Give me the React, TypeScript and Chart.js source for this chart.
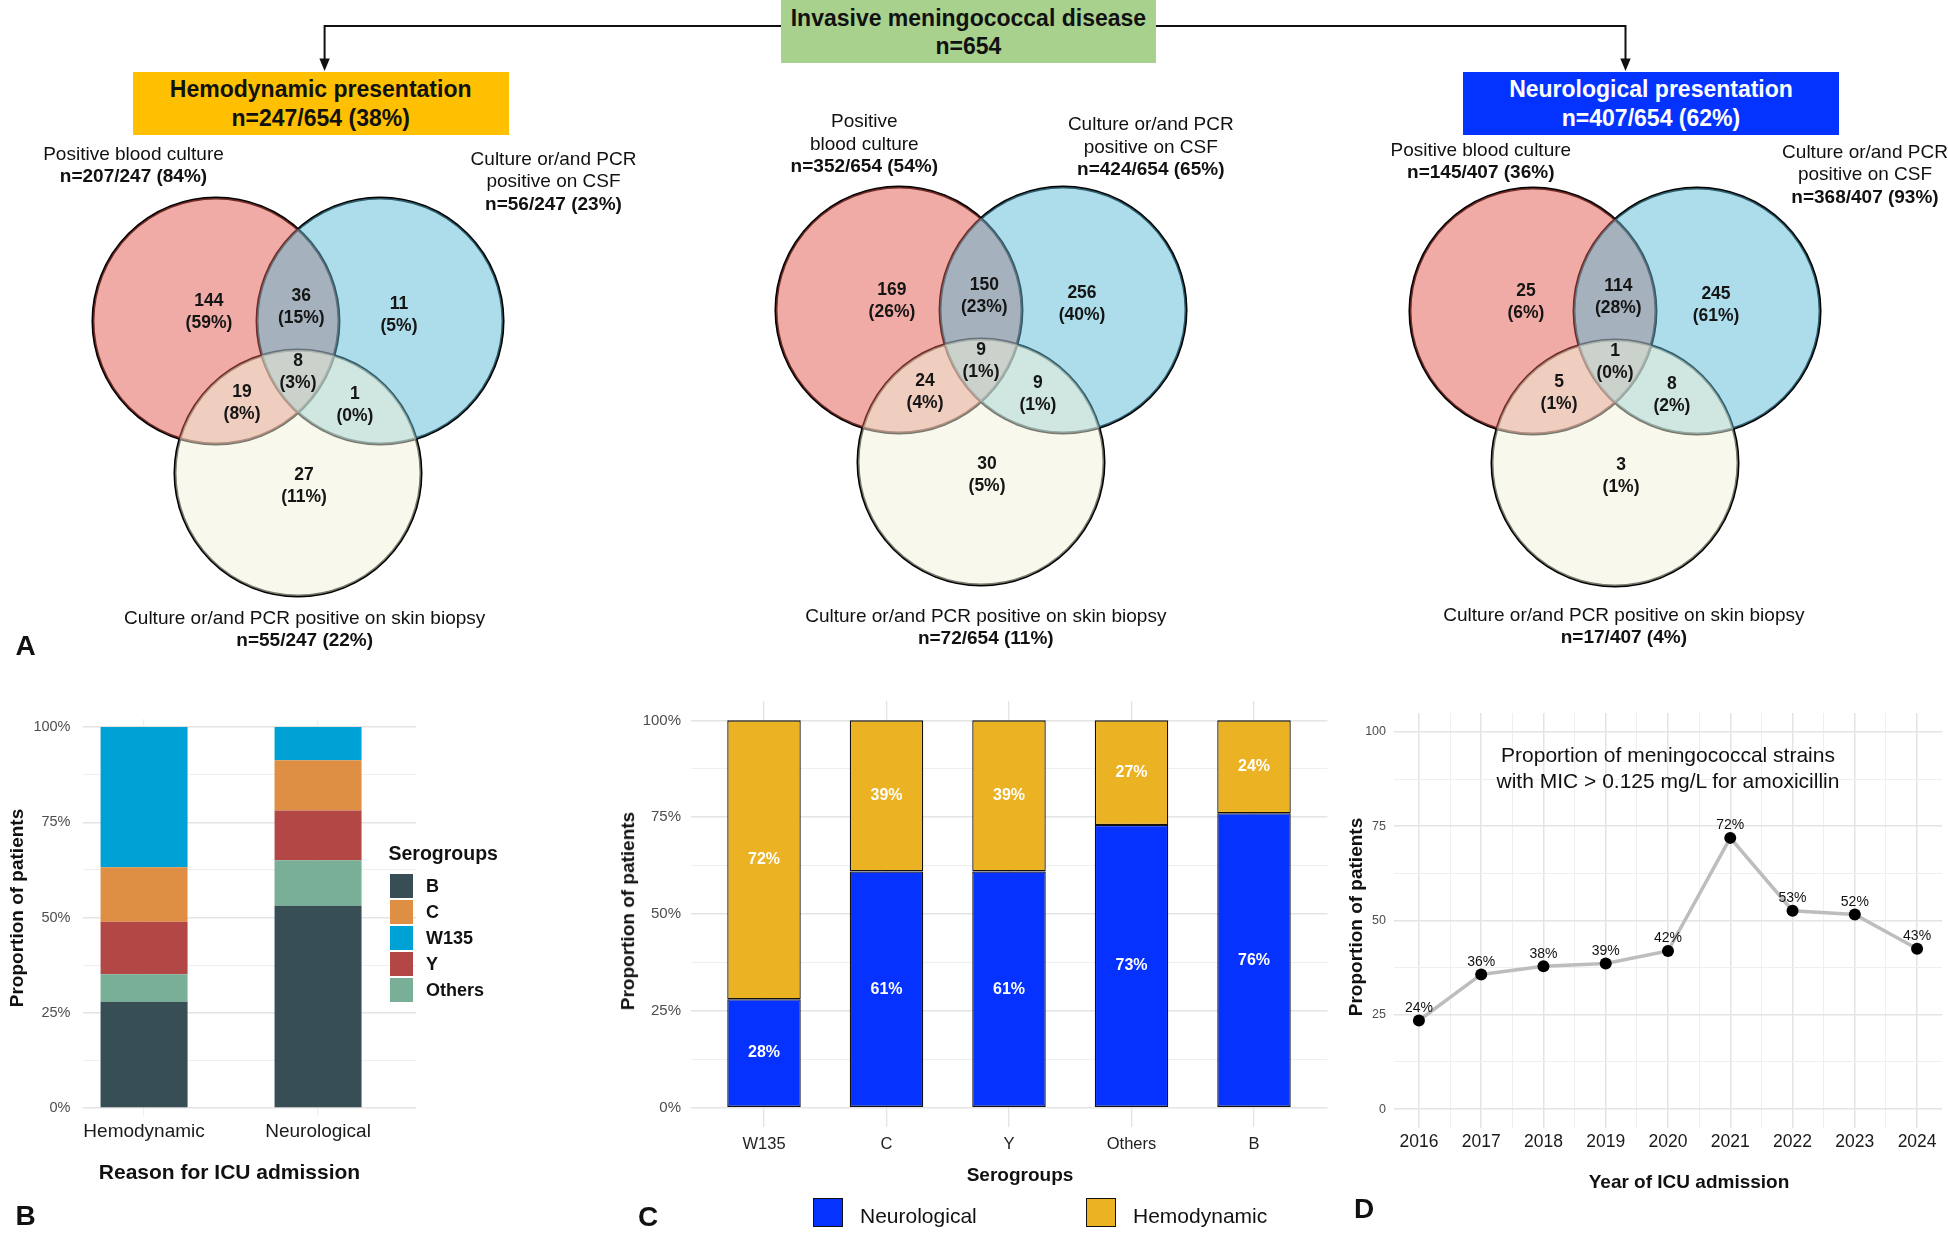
import React, { useEffect, useRef } from 'react';
import { Chart, registerables } from 'chart.js';

Chart.register(...registerables);

const FONT = '"Liberation Sans", Arial, Helvetica, sans-serif';
Chart.defaults.font.family = FONT;

// ---------------- DATA ----------------
// Venn regions (order): blood only, blood+CSF, CSF only, all three, blood+skin, CSF+skin, skin only
const hemoRegionCounts = [144, 36, 11, 8, 19, 1, 27];
const hemoRegionPcts = [59, 15, 5, 3, 8, 0, 11];
const allRegionCounts = [169, 150, 256, 9, 24, 9, 30];
const allRegionPcts = [26, 23, 40, 1, 4, 1, 5];
const neuroRegionCounts = [25, 114, 245, 1, 5, 8, 3];
const neuroRegionPcts = [6, 28, 61, 0, 1, 2, 1];

// Set totals: blood, CSF, skin
const hemoSetN = [207, 56, 55];
const hemoSetPct = [84, 23, 22];
const allSetN = [352, 424, 72];
const allSetPct = [54, 65, 11];
const neuroSetN = [145, 368, 17];
const neuroSetPct = [36, 93, 4];
const totalPatients = 654;
const hemoPatients = 247;
const neuroPatients = 407;
const hemoSharePct = 38;
const neuroSharePct = 62;

// Panel B
const icuReasons = ['Hemodynamic', 'Neurological'];
const sgB = [27.9, 53.1];
const sgOthers = [7.2, 11.9];
const sgY = [13.8, 13.1];
const sgC = [14.3, 13.2];
const sgW135 = [36.8, 8.7];

// Panel C
const serogroupsC = ['W135', 'C', 'Y', 'Others', 'B'];
const neuroPctC = [28, 61, 61, 73, 76];
const hemoPctC = [72, 39, 39, 27, 24];

// Panel D
const years = [2016, 2017, 2018, 2019, 2020, 2021, 2022, 2023, 2024];
const micPct = [23.5, 35.7, 37.9, 38.6, 41.9, 71.9, 52.6, 51.6, 42.5];

const percentTicks = [0, 12.5, 25, 37.5, 50, 62.5, 75, 87.5, 100];

// ---------------- STYLE / LAYOUT ----------------
const GRID_MAJOR = '#e4e4e4';
const GRID_MINOR = '#efefef';
const isMajor25 = (v: number) => Math.abs(v % 25) < 1e-6;

const sgColors: Record<string, string> = {
  B: '#374E55',
  C: '#DF8F44',
  W135: '#00A1D5',
  Y: '#B24745',
  Others: '#79AF97',
};
const sgStack = [
  { name: 'B', values: sgB },
  { name: 'Others', values: sgOthers },
  { name: 'Y', values: sgY },
  { name: 'C', values: sgC },
  { name: 'W135', values: sgW135 },
];
const sgLegendOrder = ['B', 'C', 'W135', 'Y', 'Others'];

const NEURO_BLUE = '#0632FF';
const HEMO_YELLOW = '#EBB223';

// Venn geometry (unit = circle radius)
const VENN_UNIT = 123;
const VENN_W = 440;
const VENN_H = 440;
const VENN_ABOVE = 140;
const circleCenters = [
  { x: -0.667, y: 0 },
  { x: 0.667, y: 0 },
  { x: 0, y: -1.236 },
];
const circleFills = ['rgba(225,87,77,0.5)', 'rgba(91,185,213,0.5)', 'rgba(241,241,217,0.5)'];
const regionAnchors: [number, number][] = [
  [-0.724, 0.073],
  [0.027, 0.114],
  [0.821, 0.049],
  [0, -0.415],
  [-0.455, -0.667],
  [0.463, -0.683],
  [0.049, -1.341],
];

type SetLabel = { x: number; y: number; lines: string[] };
const vennPanels = [
  {
    key: 'hemo', cx: 298, cy: 321, counts: hemoRegionCounts, pcts: hemoRegionPcts,
    setN: hemoSetN, setPct: hemoSetPct, denom: hemoPatients,
    labels: [
      { x: 133.5, y: 165.8, lines: ['Positive blood culture'] },
      { x: 553.5, y: 181.5, lines: ['Culture or/and PCR', 'positive on CSF'] },
      { x: 304.7, y: 629.5, lines: ['Culture or/and PCR positive on skin biopsy'] },
    ] as SetLabel[],
  },
  {
    key: 'all', cx: 981, cy: 310, counts: allRegionCounts, pcts: allRegionPcts,
    setN: allSetN, setPct: allSetPct, denom: totalPatients,
    labels: [
      { x: 864.3, y: 144.2, lines: ['Positive', 'blood culture'] },
      { x: 1150.8, y: 147.2, lines: ['Culture or/and PCR', 'positive on CSF'] },
      { x: 985.8, y: 627.5, lines: ['Culture or/and PCR positive on skin biopsy'] },
    ] as SetLabel[],
  },
  {
    key: 'neuro', cx: 1614.75, cy: 311, counts: neuroRegionCounts, pcts: neuroRegionPcts,
    setN: neuroSetN, setPct: neuroSetPct, denom: neuroPatients,
    labels: [
      { x: 1480.8, y: 161.9, lines: ['Positive blood culture'] },
      { x: 1865, y: 174.6, lines: ['Culture or/and PCR', 'positive on CSF'] },
      { x: 1623.9, y: 626.6, lines: ['Culture or/and PCR positive on skin biopsy'] },
    ] as SetLabel[],
  },
];

// ---------------- HELPERS ----------------
function Txt(props: {
  x: number; y: number; size: number; bold?: boolean; color?: string;
  align?: 'center' | 'left'; rotate?: boolean; lh?: number; children: React.ReactNode;
}) {
  const { x, y, size, bold, color = '#111', align = 'center', rotate, lh, children } = props;
  const tx = align === 'center' ? '-50%' : '0';
  return (
    <div
      style={{
        position: 'absolute', left: x, top: y,
        transform: `translate(${tx},-50%)${rotate ? ' rotate(-90deg)' : ''}`,
        fontSize: size, fontWeight: bold ? 700 : 400, color, whiteSpace: 'nowrap',
        lineHeight: lh ? `${lh}px` : 1.15, fontFamily: FONT, textAlign: align,
      }}
    >
      {children}
    </div>
  );
}

function ChartCanvas(props: { left: number; top: number; width: number; height: number; build: () => any }) {
  const ref = useRef<HTMLCanvasElement | null>(null);
  useEffect(() => {
    if (!ref.current) return;
    const chart = new Chart(ref.current, props.build());
    return () => chart.destroy();
  }, []);
  return (
    <canvas
      ref={ref}
      width={props.width}
      height={props.height}
      style={{ position: 'absolute', left: props.left, top: props.top, width: props.width, height: props.height, display: 'block' }}
    />
  );
}

const unitRadius = (ctx: any) => {
  const s = ctx.chart.scales && ctx.chart.scales.x;
  if (!s) return 0;
  return Math.abs(s.getPixelForValue(1) - s.getPixelForValue(0));
};

function buildVenn(counts: number[], pcts: number[]) {
  return {
    type: 'scatter',
    data: {
      datasets: [
        {
          data: circleCenters,
          pointBackgroundColor: circleFills,
          pointBorderWidth: 0,
          pointRadius: unitRadius,
          pointHoverRadius: unitRadius,
          clip: false,
        },
        {
          data: circleCenters,
          pointBackgroundColor: 'rgba(0,0,0,0)',
          pointBorderColor: '#000',
          pointBorderWidth: 3,
          pointRadius: unitRadius,
          pointHoverRadius: unitRadius,
          clip: false,
        },
      ],
    },
    options: {
      responsive: false,
      animation: false,
      events: [],
      layout: { padding: 0 },
      plugins: { legend: { display: false }, tooltip: { enabled: false } },
      scales: {
        x: { type: 'linear', display: false, offset: false, min: -VENN_W / 2 / VENN_UNIT, max: VENN_W / 2 / VENN_UNIT, bounds: 'data' },
        y: { type: 'linear', display: false, offset: false, min: -(VENN_H - VENN_ABOVE) / VENN_UNIT, max: VENN_ABOVE / VENN_UNIT, bounds: 'data' },
      },
    },
    plugins: [
      {
        id: 'vennRegionLabels',
        afterDatasetsDraw(chart: any) {
          const { ctx, scales } = chart;
          ctx.save();
          ctx.fillStyle = '#151515';
          ctx.font = `bold 17.5px ${FONT}`;
          ctx.textAlign = 'center';
          ctx.textBaseline = 'middle';
          regionAnchors.forEach(([ax, ay], i) => {
            const px = scales.x.getPixelForValue(ax);
            const py = scales.y.getPixelForValue(ay);
            ctx.fillText(String(counts[i]), px, py - 11);
            ctx.fillText(`(${pcts[i]}%)`, px, py + 11);
          });
          ctx.restore();
        },
      },
    ],
  };
}

const pctGrid = {
  color: (c: any) => (isMajor25(c.tick.value) ? GRID_MAJOR : GRID_MINOR),
  lineWidth: (c: any) => (isMajor25(c.tick.value) ? 1.5 : 1),
  drawTicks: false,
  offset: false,
};

// ---------------- PANEL B ----------------
function buildB() {
  return {
    type: 'bar',
    data: {
      datasets: sgStack.map((s) => ({
        label: s.name,
        data: s.values.map((v, i) => ({ x: i + 1, y: v })),
        backgroundColor: sgColors[s.name],
        borderWidth: 0,
        categoryPercentage: 1,
        barPercentage: 0.5,
      })),
    },
    options: {
      responsive: false,
      animation: false,
      events: [],
      layout: { padding: { top: 39, right: 650 - 416, left: 0, bottom: 0 } },
      plugins: { legend: { display: false }, tooltip: { enabled: false } },
      scales: {
        x: {
          type: 'linear', stacked: true, offset: false, min: 0.649, max: 2.563, bounds: 'data',
          afterFit: (s: any) => { s.height = 554 - 436; },
          afterBuildTicks: (s: any) => { s.ticks = icuReasons.map((_, i) => ({ value: i + 1 })); },
          ticks: {
            callback: (v: any) => icuReasons[Math.round(v) - 1] ?? '',
            font: { size: 19 }, color: '#1a1a1a', padding: 4.5, maxRotation: 0, autoSkip: false,
          },
          grid: { color: GRID_MINOR, lineWidth: 1.2, drawTicks: false, offset: false },
          border: { display: false },
        },
        y: {
          type: 'linear', stacked: true, min: -2.1, max: 102.1, bounds: 'data',
          afterFit: (s: any) => { s.width = 83; },
          afterBuildTicks: (s: any) => { s.ticks = percentTicks.map((v) => ({ value: v })); },
          ticks: {
            callback: (v: any) => (isMajor25(v) ? `${v}%` : ''),
            font: { size: 14.5 }, color: '#4d4d4d', padding: 12.5, autoSkip: false,
          },
          grid: pctGrid,
          border: { display: false },
        },
      },
    },
  };
}

// ---------------- PANEL C ----------------
function buildC() {
  const mk = (label: string, vals: number[], color: string) => ({
    label,
    data: vals.map((v, i) => ({ x: i + 1, y: v })),
    backgroundColor: color,
    borderColor: '#111',
    borderWidth: 1.3,
    borderSkipped: false,
    categoryPercentage: 1,
    barPercentage: 0.6,
  });
  return {
    type: 'bar',
    data: {
      datasets: [mk('Neurological', neuroPctC, NEURO_BLUE), mk('Hemodynamic', hemoPctC, HEMO_YELLOW)],
    },
    options: {
      responsive: false,
      animation: false,
      events: [],
      layout: { padding: { top: 21, right: 2.5, left: 0, bottom: 0 } },
      plugins: { legend: { display: false }, tooltip: { enabled: false } },
      scales: {
        x: {
          type: 'linear', stacked: true, offset: false, min: 0.4, max: 5.6, bounds: 'data',
          afterFit: (s: any) => { s.height = 107; },
          afterBuildTicks: (s: any) => { s.ticks = serogroupsC.map((_, i) => ({ value: i + 1 })); },
          ticks: {
            callback: (v: any) => serogroupsC[Math.round(v) - 1] ?? '',
            font: { size: 16.5 }, color: '#222', padding: 8, maxRotation: 0, autoSkip: false,
          },
          grid: { color: GRID_MAJOR, lineWidth: 1.3, drawTicks: false, offset: false },
          border: { display: false },
        },
        y: {
          type: 'linear', stacked: true, min: -5, max: 105, bounds: 'data',
          afterFit: (s: any) => { s.width = 70.5; },
          afterBuildTicks: (s: any) => { s.ticks = percentTicks.map((v) => ({ value: v })); },
          ticks: {
            callback: (v: any) => (isMajor25(v) ? `${v}%` : ''),
            font: { size: 15 }, color: '#4d4d4d', padding: 9.5, autoSkip: false,
          },
          grid: pctGrid,
          border: { display: false },
        },
      },
    },
    plugins: [
      {
        id: 'barLabels',
        afterDatasetsDraw(chart: any) {
          const ctx = chart.ctx;
          ctx.save();
          ctx.fillStyle = '#ffffff';
          ctx.font = `bold 16px ${FONT}`;
          ctx.textAlign = 'center';
          ctx.textBaseline = 'middle';
          chart.data.datasets.forEach((ds: any, di: number) => {
            const meta = chart.getDatasetMeta(di);
            meta.data.forEach((el: any, i: number) => {
              const p = el.getProps(['x', 'y', 'base'], true);
              ctx.fillText(`${ds.data[i].y}%`, p.x, (p.y + p.base) / 2);
            });
          });
          ctx.restore();
        },
      },
    ],
  };
}

// ---------------- PANEL D ----------------
function buildD() {
  return {
    type: 'line',
    data: {
      datasets: [
        {
          data: years.map((y, i) => ({ x: y, y: micPct[i] })),
          borderColor: '#bdbdbd',
          borderWidth: 3.5,
          pointRadius: 6,
          pointBackgroundColor: '#000',
          pointBorderWidth: 0,
          tension: 0,
          fill: false,
        },
      ],
    },
    options: {
      responsive: false,
      animation: false,
      events: [],
      layout: { padding: { top: 33, right: 3, left: 0, bottom: 0 } },
      plugins: { legend: { display: false }, tooltip: { enabled: false } },
      scales: {
        x: {
          type: 'linear', offset: false, min: years[0] - 0.4, max: years[years.length - 1] + 0.4, bounds: 'data',
          afterFit: (s: any) => { s.height = 106; },
          afterBuildTicks: (s: any) => {
            const t: any[] = [];
            for (let k = 0; k <= (years.length - 1) * 2; k++) t.push({ value: years[0] + k * 0.5 });
            s.ticks = t;
          },
          ticks: {
            callback: (v: any) => (Number.isInteger(v) ? String(v) : ''),
            font: { size: 17.5 }, color: '#1a1a1a', padding: 3.5, maxRotation: 0, autoSkip: false,
          },
          grid: {
            color: (c: any) => (Number.isInteger(c.tick.value) ? GRID_MAJOR : GRID_MINOR),
            lineWidth: (c: any) => (Number.isInteger(c.tick.value) ? 1.5 : 1),
            drawTicks: false,
            offset: false,
          },
          border: { display: false },
        },
        y: {
          type: 'linear', min: -5, max: 105, bounds: 'data',
          afterFit: (s: any) => { s.width = 64; },
          afterBuildTicks: (s: any) => { s.ticks = percentTicks.map((v) => ({ value: v })); },
          ticks: {
            callback: (v: any) => (isMajor25(v) ? `${v}` : ''),
            font: { size: 12.5 }, color: '#4d4d4d', padding: 8, autoSkip: false,
          },
          grid: pctGrid,
          border: { display: false },
        },
      },
    },
    plugins: [
      {
        id: 'pointLabels',
        afterDatasetsDraw(chart: any) {
          const ctx = chart.ctx;
          ctx.save();
          ctx.fillStyle = '#111';
          ctx.font = `14px ${FONT}`;
          ctx.textAlign = 'center';
          ctx.textBaseline = 'middle';
          const meta = chart.getDatasetMeta(0);
          meta.data.forEach((el: any, i: number) => {
            const p = el.getProps(['x', 'y'], true);
            ctx.fillText(`${Math.round(micPct[i])}%`, p.x, p.y - 12.5);
          });
          ctx.restore();
        },
      },
    ],
  };
}

// ---------------- APP ----------------
export default function App() {
  return (
    <div
      style={{
        position: 'absolute', left: 0, top: 0, width: 1948, height: 1234,
        background: '#fff', overflow: 'hidden', fontFamily: FONT,
      }}
    >
      {/* connectors */}
      <svg width={1948} height={140} style={{ position: 'absolute', left: 0, top: 0 }}>
        <polyline points="324.6,60 324.6,26 781,26" fill="none" stroke="#111" strokeWidth={2} />
        <polygon points="319.4,58.5 329.8,58.5 324.6,71" fill="#111" />
        <polyline points="1156,26 1625.5,26 1625.5,60" fill="none" stroke="#111" strokeWidth={2} />
        <polygon points="1620.3,58.5 1630.7,58.5 1625.5,71" fill="#111" />
      </svg>

      {/* top boxes */}
      <div style={{ position: 'absolute', left: 780.6, top: 0, width: 375.6, height: 63, background: '#A9D18E', display: 'flex', flexDirection: 'column', alignItems: 'center', justifyContent: 'center', fontWeight: 700, fontSize: 23, lineHeight: '27.7px', color: '#111', paddingTop: 3, boxSizing: 'border-box' }}>
        <div>Invasive meningococcal disease</div>
        <div>n={totalPatients}</div>
      </div>
      <div style={{ position: 'absolute', left: 132.7, top: 72.1, width: 376, height: 62.6, background: '#FEC000', display: 'flex', flexDirection: 'column', alignItems: 'center', justifyContent: 'center', fontWeight: 700, fontSize: 23, lineHeight: '29px', color: '#111', paddingTop: 2, boxSizing: 'border-box' }}>
        <div>Hemodynamic presentation</div>
        <div>n={hemoPatients}/{totalPatients} ({hemoSharePct}%)</div>
      </div>
      <div style={{ position: 'absolute', left: 1463, top: 72.1, width: 376, height: 62.6, background: '#0433FF', display: 'flex', flexDirection: 'column', alignItems: 'center', justifyContent: 'center', fontWeight: 700, fontSize: 23, lineHeight: '29px', color: '#fff', paddingTop: 2, boxSizing: 'border-box' }}>
        <div>Neurological presentation</div>
        <div>n={neuroPatients}/{totalPatients} ({neuroSharePct}%)</div>
      </div>

      {/* venn diagrams */}
      {vennPanels.map((p) => (
        <React.Fragment key={p.key}>
          <ChartCanvas
            left={p.cx - VENN_W / 2}
            top={p.cy - VENN_ABOVE}
            width={VENN_W}
            height={VENN_H}
            build={() => buildVenn(p.counts, p.pcts)}
          />
          {p.labels.map((lab, si) => (
            <div
              key={si}
              style={{
                position: 'absolute', left: lab.x, top: lab.y, transform: 'translate(-50%,-50%)',
                textAlign: 'center', fontSize: 19, lineHeight: '22.6px', color: '#111', whiteSpace: 'nowrap',
              }}
            >
              {lab.lines.map((l, li) => (
                <div key={li}>{l}</div>
              ))}
              <div style={{ fontWeight: 700 }}>
                n={p.setN[si]}/{p.denom} ({p.setPct[si]}%)
              </div>
            </div>
          ))}
        </React.Fragment>
      ))}

      <Txt x={25.5} y={646} size={28} bold>A</Txt>

      {/* Panel B */}
      <ChartCanvas left={0} top={680} width={650} height={554} build={buildB} />
      <Txt x={17.4} y={908} size={19} bold rotate>Proportion of patients</Txt>
      <Txt x={229.5} y={1172} size={21} bold>Reason for ICU admission</Txt>
      <Txt x={388.5} y={853} size={19.5} bold align="left">Serogroups</Txt>
      {sgLegendOrder.map((name, i) => (
        <React.Fragment key={name}>
          <div style={{ position: 'absolute', left: 390, top: 873.6 + i * 26.2, width: 23, height: 24, background: sgColors[name] }} />
          <Txt x={426} y={885.6 + i * 26.2} size={18} bold align="left">{name}</Txt>
        </React.Fragment>
      ))}
      <Txt x={25.5} y={1216} size={28} bold>B</Txt>

      {/* Panel C */}
      <ChartCanvas left={620} top={680} width={710} height={554} build={buildC} />
      <Txt x={628} y={911} size={19} bold rotate>Proportion of patients</Txt>
      <Txt x={1020} y={1175.4} size={19} bold>Serogroups</Txt>
      <div style={{ position: 'absolute', left: 813, top: 1198, width: 30, height: 29, background: NEURO_BLUE, border: '1.5px solid #111', boxSizing: 'border-box' }} />
      <Txt x={860} y={1216} size={21} align="left">Neurological</Txt>
      <div style={{ position: 'absolute', left: 1086, top: 1198, width: 30, height: 29, background: HEMO_YELLOW, border: '1.5px solid #111', boxSizing: 'border-box' }} />
      <Txt x={1133} y={1216} size={21} align="left">Hemodynamic</Txt>
      <Txt x={648} y={1217} size={28} bold>C</Txt>

      {/* Panel D */}
      <ChartCanvas left={1330} top={680} width={618} height={554} build={buildD} />
      <div style={{ position: 'absolute', left: 1668, top: 768, transform: 'translate(-50%,-50%)', textAlign: 'center', fontSize: 21, lineHeight: '26px', color: '#111', whiteSpace: 'nowrap' }}>
        <div>Proportion of meningococcal strains</div>
        <div>with MIC &gt; 0.125 mg/L for amoxicillin</div>
      </div>
      <Txt x={1356} y={917} size={19} bold rotate>Proportion of patients</Txt>
      <Txt x={1689} y={1182} size={19} bold>Year of ICU admission</Txt>
      <Txt x={1364} y={1208.5} size={28} bold>D</Txt>
    </div>
  );
}
